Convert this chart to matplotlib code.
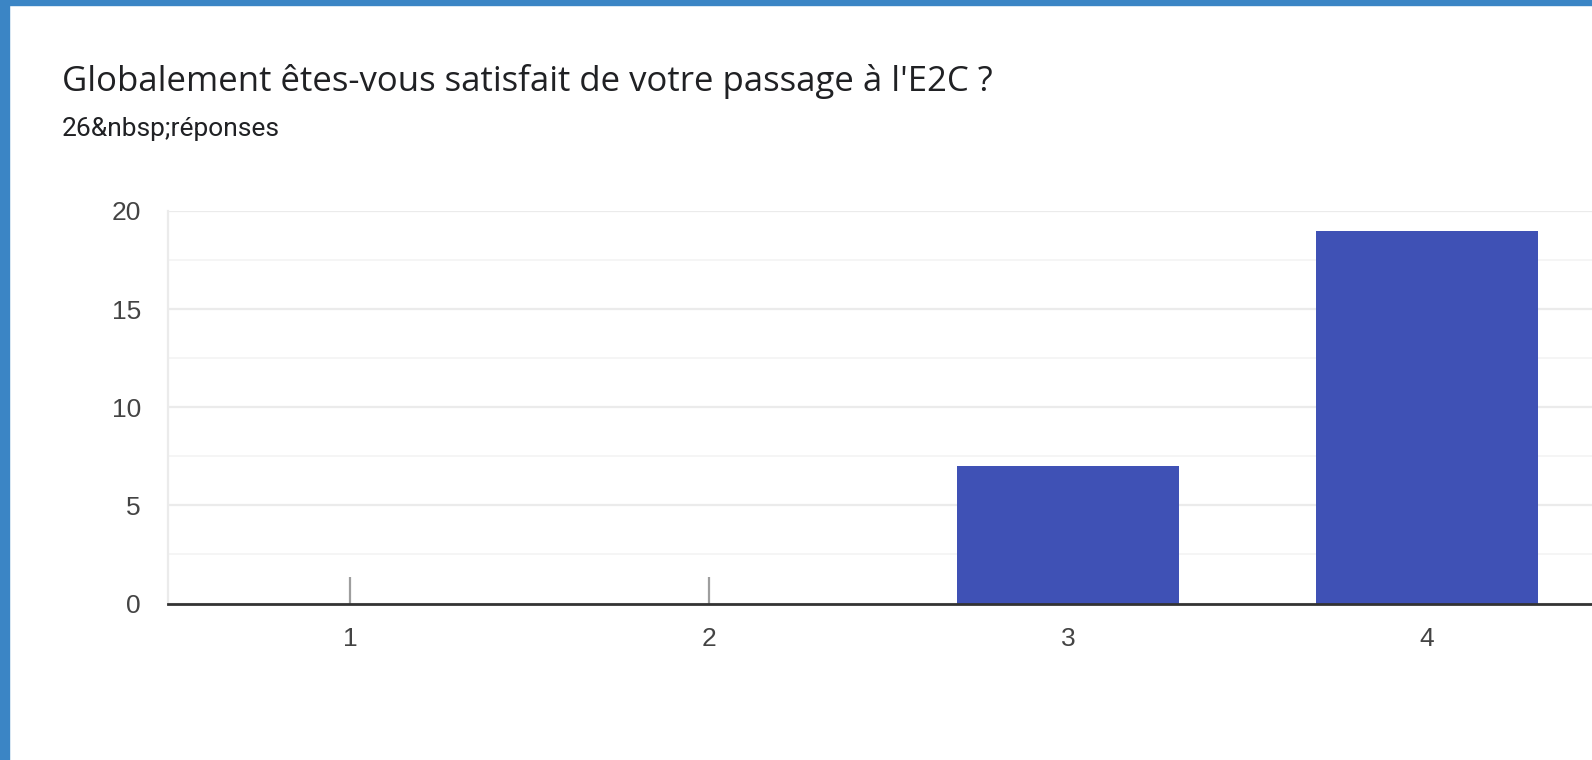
import matplotlib
matplotlib.use("Agg")
import matplotlib.pyplot as plt
from matplotlib.patches import Rectangle
import numpy as np

title = "Globalement êtes-vous satisfait de votre passage à l'E2C ?"
subtitle = "26&nbsp;réponses"
categories = ["1", "2", "3", "4", "5"]
values = [0, 0, 7, 19, 0]
yticks = [0, 5, 10, 15, 20]

W, H = 1592, 760
fig = plt.figure(figsize=(W / 100, H / 100), dpi=100)
fig.patch.set_facecolor("white")

# blue frame (left and top)
border = "#3b85c5"
fig.patches.append(Rectangle((0, 0), 9 / W, 1, transform=fig.transFigure, color=border, zorder=0))
fig.patches.append(Rectangle((0, 1 - 5 / H), 1, 5 / H, transform=fig.transFigure, color=border, zorder=0))

fig.text(62 / W, 1 - 91 / H, title, fontsize=25, color="#202124",
         family=["Open Sans", "DejaVu Sans"], va="baseline", ha="left")
fig.text(62 / W, 1 - 136 / H, subtitle, fontsize=19, color="#202124",
         family=["Roboto", "DejaVu Sans"], va="baseline", ha="left")

cat_w = 359.0
x_left = 0.493
n = len(categories)
x0, y0, h = 168, 603.5, 392.5
ax = fig.add_axes([x0 / W, (H - y0) / H, (n + 0.5 - x_left) * cat_w / W, h / H])
ax.set_facecolor("white")
x = np.arange(1, n + 1)
ax.bar(x, values, width=0.62, color="#3f51b5", zorder=3)
zero = [xi for xi, v in zip(x, values) if v == 0]
ax.vlines(zero, 0, 1.33, color="#9e9e9e", lw=1.6, zorder=3)

ax.set_xlim(x_left, n + 0.5)
ax.set_ylim(0, 20)
ax.set_xticks(x)
ax.set_xticklabels(categories)
ax.set_yticks(yticks)
ax.set_yticks(np.arange(2.5, 20, 5), minor=True)
ax.grid(axis="y", which="major", color="#ebebeb", lw=1.6, zorder=0)
ax.grid(axis="y", which="minor", color="#f5f5f5", lw=1.4, zorder=0)
ax.tick_params(axis="both", which="both", length=0)
ax.tick_params(axis="x", pad=17, labelsize=19, labelcolor="#444444")
ax.tick_params(axis="y", pad=19.5, labelsize=19, labelcolor="#444444")
for lab in ax.get_xticklabels() + ax.get_yticklabels():
    lab.set_family(["Liberation Sans", "DejaVu Sans"])
for s in ["top", "right"]:
    ax.spines[s].set_visible(False)
ax.spines["left"].set_color("#ebebeb")
ax.spines["left"].set_linewidth(1.6)
ax.spines["bottom"].set_color("#333333")
ax.spines["bottom"].set_linewidth(2)
ax.spines["bottom"].set_zorder(4)

# hide tick labels that fall outside the visible card (as in the screenshot)
fig.canvas.draw()
for lab in ax.get_xticklabels():
    bb = lab.get_window_extent()
    if bb.x1 > W:
        lab.set_visible(False)

fig.savefig("out.png", dpi=100)
